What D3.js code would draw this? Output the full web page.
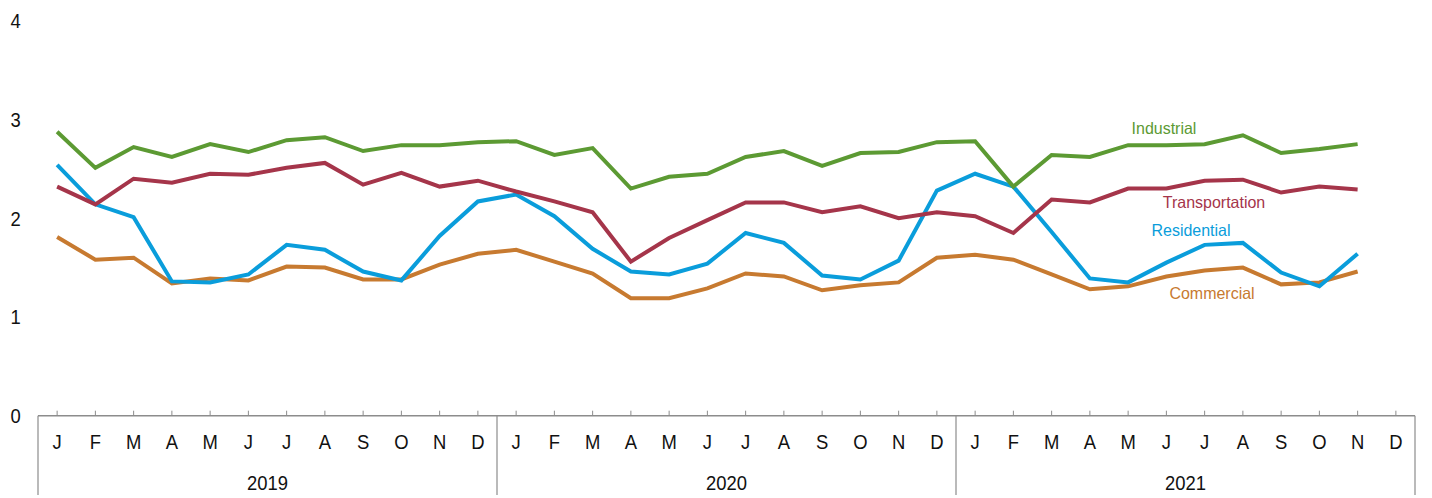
<!DOCTYPE html>
<html><head><meta charset="utf-8">
<script src="https://cdn.jsdelivr.net/npm/d3@7"></script>
<style>body{margin:0;background:#fff}svg{display:block;font-family:"Liberation Sans",Arial,sans-serif}</style>
</head><body><svg id="c" width="1432" height="498"></svg>
<script>
const years = ["2019","2020","2021"];
const monthLabels = ["J","F","M","A","M","J","J","A","S","O","N","D"];
const yTicks = [0,1,2,3,4];
const industrial = [2.875,2.51,2.72,2.62,2.75,2.67,2.79,2.82,2.68,2.74,2.74,2.77,
  2.78,2.64,2.71,2.30,2.42,2.45,2.62,2.68,2.53,2.66,2.67,2.77,
  2.78,2.32,2.64,2.62,2.74,2.74,2.75,2.84,2.66,2.70,2.75];
const transportation = [2.32,2.14,2.40,2.36,2.45,2.44,2.51,2.56,2.34,2.46,2.32,2.38,
  2.27,2.17,2.06,1.56,1.80,1.98,2.16,2.16,2.06,2.12,2.00,2.06,
  2.02,1.85,2.19,2.16,2.30,2.30,2.38,2.39,2.26,2.32,2.29];
const residential = [2.54,2.14,2.01,1.36,1.35,1.43,1.73,1.68,1.46,1.37,1.82,2.17,
  2.24,2.02,1.69,1.46,1.43,1.54,1.85,1.75,1.42,1.38,1.57,2.28,
  2.45,2.32,1.86,1.39,1.35,1.55,1.73,1.75,1.45,1.31,1.64];
const commercial = [1.81,1.58,1.60,1.34,1.39,1.37,1.51,1.50,1.38,1.38,1.53,1.64,
  1.68,1.56,1.44,1.19,1.19,1.29,1.44,1.41,1.27,1.32,1.35,1.60,
  1.63,1.58,1.43,1.28,1.31,1.41,1.47,1.50,1.33,1.35,1.46];
const seriesNames = ["Industrial","Transportation","Residential","Commercial"];
const seriesColors = ["#5c9a33","#a5354a","#0a9ddb","#c77a30"];
const labelPos = [[1164,128],[1214,202],[1191,230],[1212,293]];

const svg = d3.select("#c");
const months = [];
years.forEach(y => monthLabels.forEach((m,i) => months.push(y+"-"+i)));
const x = d3.scaleBand().domain(months).range([38,1415]);
const y = d3.scaleLinear().domain([0,4]).range([415.7,20.7]);
const axisColor = "#8c8c8c";
const tf = (px,py,sx,sy) => `translate(${px},${py}) scale(${sx},${sy})`;

// y labels
svg.append("g").selectAll("text").data(yTicks).join("text")
  .attr("transform",d=>tf(15.5,y(d),0.97,1.1)).attr("dy","0.35em").attr("text-anchor","middle")
  .attr("font-size",19).attr("fill","#111").text(d=>d);

// x axis baseline
const ay = y(0);
svg.append("line").attr("x1",38).attr("x2",1415).attr("y1",ay).attr("y2",ay)
  .attr("stroke",axisColor).attr("stroke-width",1.5);
// month ticks
svg.append("g").selectAll("line").data(months).join("line")
  .attr("x1",d=>x(d)+x.bandwidth()/2).attr("x2",d=>x(d)+x.bandwidth()/2)
  .attr("y1",ay-5).attr("y2",ay).attr("stroke",axisColor).attr("stroke-width",1);
// year separators
const seps = [0,12,24,36].map(i => i<36 ? x(months[i]) : 1415);
svg.append("g").selectAll("line").data(seps).join("line")
  .attr("x1",d=>d).attr("x2",d=>d).attr("y1",ay).attr("y2",495)
  .attr("stroke",axisColor).attr("stroke-width",1.2);
// month labels
svg.append("g").selectAll("text").data(months).join("text")
  .attr("transform",d=>tf(x(d)+x.bandwidth()/2,442,0.97,1.1)).attr("dy","0.35em")
  .attr("text-anchor","middle").attr("font-size",19).attr("fill","#111")
  .text(d=>monthLabels[+d.split("-")[1]]);
// year labels
svg.append("g").selectAll("text").data(years).join("text")
  .attr("transform",(d,i)=>tf((seps[i]+seps[i+1])/2,483,0.97,1.1)).attr("dy","0.35em")
  .attr("text-anchor","middle").attr("font-size",19).attr("fill","#111").text(d=>d);

// lines
const data = [industrial,transportation,residential,commercial];
const line = d3.line().x((d,i)=>x(months[i])+x.bandwidth()/2).y(d=>y(d));
[3,2,1,0].forEach(k=>{
  svg.append("path").datum(data[k]).attr("d",line).attr("fill","none")
    .attr("stroke",seriesColors[k]).attr("stroke-width",4).attr("stroke-linejoin","miter");
});
// series labels
seriesNames.forEach((n,k)=>{
  svg.append("text").attr("transform",tf(labelPos[k][0],labelPos[k][1],1,1.07)).attr("dy","0.35em")
    .attr("text-anchor","middle").attr("font-size",16).attr("fill",seriesColors[k]).text(n);
});
</script></body></html>
